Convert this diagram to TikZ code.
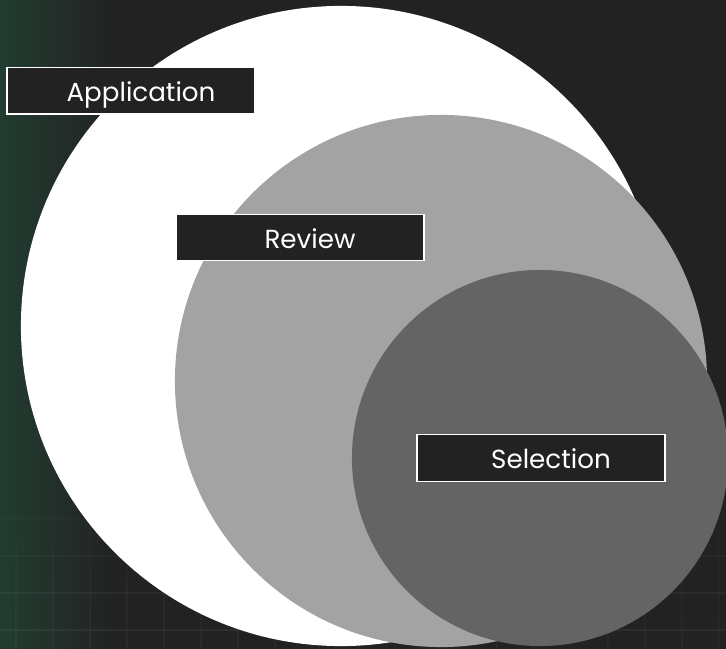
\documentclass[tikz,border=0pt]{standalone}
\usepackage{fontspec}
\setmainfont{Poppins}
\usepackage{xcolor}
\definecolor{BgDark}{HTML}{222222}
\definecolor{BgGreen}{HTML}{223C30}
\definecolor{MidGray}{HTML}{A3A3A3}
\definecolor{DeepGray}{HTML}{646464}
\definecolor{White}{HTML}{FFFFFF}
\usetikzlibrary{positioning,calc,fadings}
\tikzfading[name=fadeup,top color=transparent!100,bottom color=transparent!0]
\tikzset{
  stage/.style={circle,draw=none,inner sep=0pt},
  tagbox/.style={draw=White,fill=BgDark,line width=1pt,minimum width=6.2cm,
    minimum height=1.16cm,inner sep=0pt},
  tagtxt/.style={font=\fontsize{18.6}{22}\selectfont,text=White,inner sep=0pt,
    anchor=base},
}

\begin{document}
\begin{tikzpicture}[x=0.025cm,y=-0.025cm]
\useasboundingbox (0,0) rectangle (726,649);
% background
\fill[BgDark] (0,0) rectangle (726,649);
\shade[left color=BgGreen,right color=BgDark] (0,0) rectangle (115,649);
\fill[white,opacity=0.06,path fading=fadeup]
  foreach \gx in {16,53,...,720} {(\gx-0.6,470) rectangle (\gx+0.6,649)};
\foreach \gy/\op in {519/0.015,556/0.03,593/0.045,630/0.05}
  \fill[white,opacity=\op] (0,\gy-0.6) rectangle (726,\gy+0.6);

% nested stages
\node[stage,fill=White,minimum size=16.0cm] (apply) at (341,326) {};
\node[stage,fill=MidGray,minimum size=13.3cm] (review) at (441,381) {};
\node[stage,fill=DeepGray,minimum size=9.4cm] (select) at (540,458) {};

% labels
\node[tagbox] (applybox) at (131,91) {};
\node[tagtxt] (applytxt) at ([xshift=0.25cm,yshift=-0.27cm]applybox.center) {Application};
\node[tagbox] (reviewbox) at (300,237.5) {};
\node[tagtxt] (reviewtxt) at ([xshift=0.25cm,yshift=-0.27cm]reviewbox.center) {Review};
\node[tagbox] (selectbox) at (541,458) {};
\node[tagtxt] (selecttxt) at ([xshift=0.25cm,yshift=-0.27cm]selectbox.center) {Selection};
\end{tikzpicture}
\end{document}
